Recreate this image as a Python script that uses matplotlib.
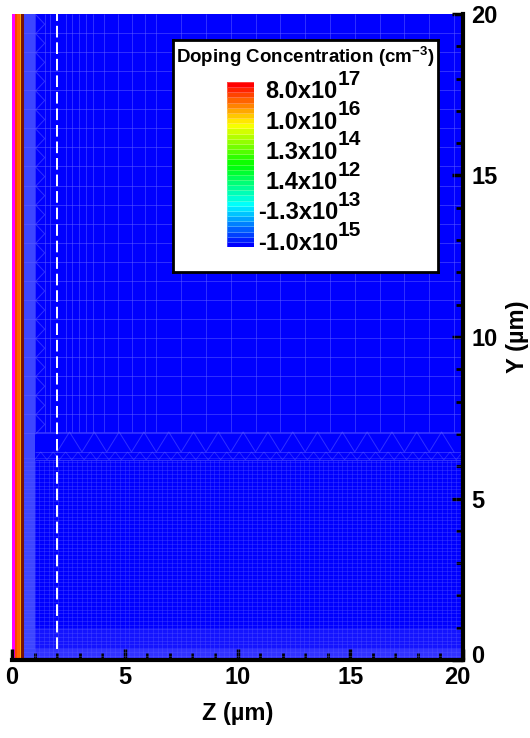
import matplotlib.pyplot as plt
import numpy as np
import matplotlib.transforms as mtransforms
from matplotlib.colors import LinearSegmentedColormap, BoundaryNorm

plt.rcParams['font.family'] = ['Liberation Sans', 'DejaVu Sans']
plt.rcParams['font.weight'] = 'bold'
plt.rcParams['mathtext.fontset'] = 'custom'
plt.rcParams['mathtext.rm'] = 'Liberation Sans:bold'
plt.rcParams['mathtext.bf'] = 'Liberation Sans:bold'

# doping profile along Z (cell edges in um, value in cm^-3)
z_edges = [0.0, 0.13, 0.18, 0.24, 0.30, 0.36, 0.40, 0.46, 20.0]
dop_cells = [2.0e18, 2.0e17, 1.5e17, 1.0e17, 7.0e16, 2.0e16, 5.0e15, -1.0e15]
y_edges = [0.0, 20.0]

# colorbar labels (bottom to top)
cb_values = [-1.0e15, -1.3e13, 1.4e12, 1.3e14, 1.0e16, 8.0e17]
cb_base = ['-1.0x10', '-1.3x10', '1.4x10', '1.3x10', '1.0x10', '8.0x10']
cb_exp = ['15', '13', '12', '14', '16', '17']

# junction line and dashed cut line
junction_z = 0.45
cut_z = [2.0, 2.0]
cut_y = [0.35, 20.0]

# mesh
coarse_cols = [1.0, 1.45, 1.7, 2.4, 2.65, 2.95, 3.3, 3.6, 4.1, 4.7, 5.3, 5.9, 6.4,
               7.5, 8.6, 9.7, 10.8, 11.9, 13.0, 14.1, 15.2, 16.3, 17.4, 18.5, 19.6]
coarse_rows = np.arange(19.41, 7.0, -0.59)
fine_cols = np.arange(1.0, 20.0, 0.21)
fine_rows = np.arange(0.0, 6.25, 0.12)
dense_bands = [(0.5, 1.0)]          # z ranges with very dense mesh
dense_rows = [(0.0, 0.35, 0.45), (0.35, 1.0, 0.18)]  # y ranges, alpha

# signed-log position of a doping value on the colorbar (0..1)
def cpos(v):
    s = np.arcsinh(np.asarray(v) / 1e11)
    ref = np.arcsinh(np.array(cb_values) / 1e11)
    out = np.interp(s, ref, np.linspace(0, 1, len(cb_values)))
    return np.where(np.asarray(v) > cb_values[-1] * 1.2, 1.5, out)

cmap = LinearSegmentedColormap.from_list(
    'rainbow_small', ['#0000ff', '#00ffff', '#00ff00', '#ffff00', '#ff0000'])
cmap.set_over('#ff00ff')
levels = np.linspace(0, 1, 33)
norm = BoundaryNorm(levels, cmap.N)

fig = plt.figure(figsize=(5.30, 7.38), dpi=100)
ax = fig.add_axes([12 / 530, 78 / 738, 451 / 530, 646 / 738])

C = cpos(dop_cells)[None, :]
ax.pcolormesh(z_edges, y_edges, C, cmap=cmap, norm=norm, shading='flat')

mc = '#6060ff'
for z0, z1 in dense_bands:
    ax.axvspan(z0, z1, color='#7080ff', alpha=0.55, lw=0)
for y0, y1, a in dense_rows:
    ax.axhspan(y0, y1, xmin=1.0 / 20, color='#7070ff', alpha=a, lw=0)

ax.vlines(coarse_cols, 7.06, 20, colors=mc, lw=0.7, alpha=0.5)
ax.hlines(coarse_rows, 0.5, 20, colors=mc, lw=0.7, alpha=0.5)
ax.vlines(fine_cols, 0, 6.2, colors=mc, lw=0.6, alpha=0.35)
ax.hlines(fine_rows, 0.5, 20, colors=mc, lw=0.6, alpha=0.35)
ax.hlines([7.06, 6.44, 6.2], 1.0, 20, colors=mc, lw=0.7, alpha=0.5)

zz = np.arange(2.0, 20.01, 0.55)
ax.plot(zz, np.where(np.arange(len(zz)) % 2 == 0, 6.44, 7.06), color=mc, lw=0.7, alpha=0.5)
zz2 = np.arange(1.0, 20.01, 0.275)
ax.plot(zz2, np.where(np.arange(len(zz2)) % 2 == 0, 6.2, 6.44), color=mc, lw=0.6, alpha=0.45)
yy = np.arange(7.0, 20.01, 0.295)
ax.plot(np.where(np.arange(len(yy)) % 2 == 0, 1.05, 1.45), yy, color=mc, lw=0.7, alpha=0.5)

ax.axvline(junction_z, color='#7a1408', lw=2.2)
ax.plot(cut_z, cut_y, color='white', lw=1.4, ls=(0, (6, 2.5)))

ax.set_xlim(0, 20)
ax.set_ylim(0, 20)
ax.set_xticks([0, 5, 10, 15, 20])
ax.set_yticks([0, 5, 10, 15, 20])
ax.set_xticks(np.arange(0, 21, 1), minor=True)
ax.set_yticks(np.arange(0, 21, 1), minor=True)
ax.yaxis.tick_right()
ax.yaxis.set_label_position('right')
ax.tick_params(which='major', direction='in', length=8, width=2.5, labelsize=17, pad=5)
ax.tick_params(which='minor', direction='in', length=5, width=2)
ax.tick_params(axis='y', which='both', left=False, right=True, pad=6)
ax.tick_params(axis='x', which='major', pad=4)
for lab in ax.get_xticklabels() + ax.get_yticklabels():
    lab.set_fontweight('bold')
for s in ['top', 'left']:
    ax.spines[s].set_visible(False)
for s in ['bottom', 'right']:
    ax.spines[s].set_linewidth(3)
ax.set_xlabel('Z (µm)', fontsize=17, fontweight='bold', labelpad=10)
ax.set_ylabel('Y (µm)', fontsize=17, fontweight='bold', labelpad=6, rotation=90)

# nudge the two corner labels apart as in the original
fig.canvas.draw()
ylab0 = ax.get_yticklabels()[0]
ylab0.set_transform(ylab0.get_transform() + mtransforms.ScaledTranslation(0, 6 / 100, fig.dpi_scale_trans))
xlab20 = ax.get_xticklabels()[-1]
xlab20.set_transform(xlab20.get_transform() + mtransforms.ScaledTranslation(-6 / 100, 0, fig.dpi_scale_trans))

# legend box
W, H = 530, 738
box = fig.add_axes([173 / W, 1 - 272 / H, 265 / W, 232 / H])
box.set_facecolor('white')
box.set_xticks([])
box.set_yticks([])
for s in box.spines.values():
    s.set_linewidth(2)
fig.text(305 / W, 1 - 57 / H, 'Doping Concentration (cm$^{-3}$)', ha='center', va='center',
         fontsize=13.5, fontweight='bold')

cbax = fig.add_axes([227 / W, 1 - 247 / H, 27 / W, 165 / H])
bands = levels[:-1][:, None] + 0.5 / 32
cbax.pcolormesh([0, 1], levels, bands, cmap=cmap, norm=norm,
                edgecolors=(1, 1, 1, 0.25), lw=0.4)
cbax.set_xlim(0, 1)
cbax.set_ylim(0, 1)
cbax.axis('off')

for i in range(len(cb_base)):
    ypx = 243 - i * 30.2
    yfig = 1 - ypx / H
    fig.text(338 / W, yfig, cb_base[i], ha='right', va='center', fontsize=17, fontweight='bold')
    fig.text(338 / W, yfig + 12.5 / H, cb_exp[i], ha='left', va='center', fontsize=15, fontweight='bold')

fig.savefig('out.png', dpi=100)
